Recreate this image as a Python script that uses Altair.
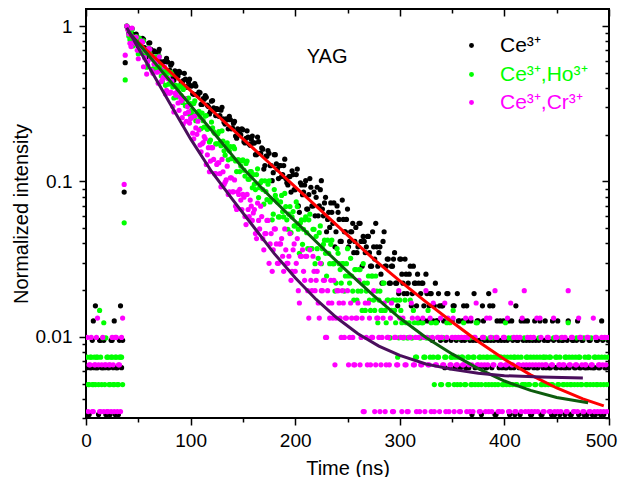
import altair as alt
import pandas as pd

FONT = "Liberation Sans"

# ---------------- data (photon counts) ----------------
series_labels = ["Ce³⁺", "Ce³⁺,Ho³⁺", "Ce³⁺,Cr³⁺"]
series_colors = ["#000000", "#00ff00", "#ff00ff"]
fit_colors = ["#ff0000", "#0d5c0d", "#4a0f5c"]

time_pre = list(range(1, 37, 2))          # before excitation (odd ns)
time_pre_even = list(range(2, 36, 2))     # before excitation (even ns)
time_rise = [36.5, 37.5]                  # rising edge
time_decay = list(range(39, 500, 2))      # peak + decay (odd ns)
time_decay_even = list(range(40, 500, 2)) # decay (even ns)

black_peak = 316
green_peak = 406
magenta_peak = 303

black_pre = [2, 1, 2, 4, 5, 2, 3, 2, 3, 1, 2, 1, 3, 4, 2, 1, 5, 3]
green_pre = [3, 2, 3, 2, 2, 3, 6, 2, 5, 4, 3, 2, 3, 2, 3, 2, 3, 2]
magenta_pre = [3, 2, 3, 1, 2, 4, 1, 2, 1, 2, 1, 2, 3, 1, 3, 2, 1, 4]

black_pre_even = [1, 2, 3, 2, 2, 1, 3, 2, 2, 1, 2, 3, 2, 1, 2, 3, 2]
green_pre_even = [2, 3, 2, 3, 3, 2, 3, 4, 2, 3, 2, 3, 2, 3, 2, 3, 3]
magenta_pre_even = [1, 2, 1, 2, 3, 2, 1, 3, 2, 1, 2, 1, 2, 3, 1, 2, 3]

black_rise = [27, 184]
green_rise = [22, 183]
magenta_rise = [29, 197]

black_decay = [316,
    285, 271, 280, 262, 268, 234, 252, 260, 227, 211,
    247, 215, 219, 195, 215, 187, 175, 187, 196, 163,
    177, 147, 163, 151, 162, 135, 141, 144, 128, 144,
    130, 115, 130, 113, 118, 99, 107, 110, 96, 89,
    105, 91, 93, 83, 91, 80, 74, 79, 83, 69,
    75, 62, 69, 64, 69, 57, 60, 61, 54, 62,
    56, 47, 57, 48, 51, 40, 46, 48, 40, 36,
    47, 38, 40, 34, 40, 33, 30, 34, 37, 28,
    35, 22, 31, 26, 30, 21, 26, 29, 22, 19,
    29, 22, 32, 19, 25, 18, 16, 20, 23, 15,
    20, 13, 24, 15, 18, 12, 15, 17, 13, 11,
    17, 13, 14, 11, 14, 11, 9, 12, 17, 9,
    12, 7, 15, 9, 10, 7, 9, 11, 7, 6,
    10, 7, 10, 6, 8, 5, 9, 7, 8, 4,
    7, 5, 8, 4, 6, 3, 5, 4, 6, 3,
    5, 2, 6, 4, 3, 5, 2, 6, 4, 3,
    5, 2, 4, 3, 1, 6, 3, 4, 2, 5,
    3, 2, 6, 3, 5, 1, 4, 2, 3, 4,
    2, 3, 1, 4, 2, 5, 3, 1, 2, 4,
    3, 2, 1, 3, 4, 2, 3, 1, 2, 4,
    3, 2, 1, 3, 2, 4, 1, 3, 2, 2,
    4, 1, 3, 2, 3, 1, 2, 3, 2, 1,
    3, 2, 2, 1, 3, 2, 4, 1, 2, 3]

black_decay_even = [
    307, 273, 305, 272, 281, 234, 254, 264, 230, 201,
    246, 224, 197, 216, 197, 224, 180, 186, 163, 186,
    165, 182, 142, 161, 151, 159, 133, 157, 129, 138,
    131, 116, 135, 115, 119, 99, 108, 113, 98, 86,
    104, 94, 84, 92, 84, 95, 76, 80, 69, 79,
    70, 77, 60, 68, 63, 68, 56, 67, 55, 59,
    56, 47, 61, 48, 52, 38, 46, 50, 40, 32,
    47, 41, 33, 40, 35, 44, 31, 34, 27, 35,
    28, 38, 20, 30, 27, 32, 21, 33, 22, 27,
    25, 19, 28, 21, 23, 15, 20, 23, 17, 12,
    22, 18, 13, 18, 15, 21, 13, 15, 11, 16,
    12, 17, 9, 13, 12, 14, 9, 15, 10, 12,
    11, 8, 13, 9, 10, 7, 9, 10, 7, 5,
    10, 8, 6, 8, 7, 9, 6, 7, 5, 7,
    6, 7, 4, 6, 5, 6, 4, 7, 4, 5,
    5, 4, 3, 6, 2, 4, 5, 3, 4, 2,
    4, 3, 5, 2, 4, 3, 2, 4, 3, 1,
    4, 2, 3, 5, 2, 3, 1, 3, 4, 2,
    3, 2, 4, 2, 3, 1, 3, 2, 4, 3,
    2, 4, 3, 1, 2, 3, 2, 4, 1, 3,
    2, 3, 2, 4, 1, 2, 3, 2, 3, 1,
    3, 2, 1, 3, 2, 4, 2, 3, 1, 2,
    2, 3, 1, 2, 3, 2, 1, 3, 2, 2]

green_decay = [406,
    350, 362, 303, 342, 317, 340, 274, 327, 269, 227,
    272, 250, 215, 258, 209, 223, 179, 217, 192, 172,
    205, 165, 168, 142, 164, 145, 159, 125, 139, 110,
    117, 129, 100, 113, 105, 112, 91, 108, 89, 75,
    90, 83, 71, 85, 69, 74, 60, 72, 64, 57,
    68, 55, 56, 47, 55, 48, 53, 42, 47, 37,
    39, 45, 32, 40, 36, 41, 31, 41, 31, 25,
    33, 30, 24, 33, 24, 28, 20, 28, 24, 21,
    30, 20, 22, 16, 23, 19, 23, 15, 20, 12,
    15, 19, 12, 16, 14, 17, 12, 17, 12, 9,
    14, 11, 12, 8, 12, 10, 13, 8, 11, 7,
    11, 8, 12, 6, 9, 7, 10, 7, 10, 5,
    8, 6, 9, 5, 7, 4, 7, 6, 7, 4,
    6, 4, 7, 4, 5, 4, 6, 3, 5, 4,
    5, 3, 4, 6, 3, 4, 2, 5, 3, 2,
    4, 3, 5, 2, 3, 6, 3, 2, 4, 3,
    5, 2, 3, 4, 2, 3, 5, 2, 3, 1,
    4, 3, 2, 3, 4, 2, 3, 1, 3, 2,
    5, 3, 2, 4, 3, 2, 3, 1, 2, 4,
    3, 2, 3, 1, 2, 3, 4, 2, 3, 2,
    1, 3, 2, 4, 3, 2, 3, 1, 2, 3,
    5, 2, 3, 2, 4, 3, 2, 1, 3, 2,
    3, 4, 2, 3, 2, 1, 3, 2, 4, 3]

green_decay_even = [
    390, 332, 385, 331, 348, 269, 303, 321, 266, 221,
    294, 258, 216, 248, 219, 261, 194, 205, 169, 205,
    173, 200, 140, 169, 154, 168, 131, 165, 126, 140,
    129, 110, 134, 110, 115, 89, 100, 107, 88, 73,
    98, 85, 71, 82, 72, 86, 64, 68, 56, 68,
    57, 66, 47, 56, 51, 56, 44, 55, 42, 47,
    45, 36, 49, 37, 41, 29, 35, 39, 30, 23,
    36, 31, 24, 30, 26, 34, 23, 25, 19, 26,
    21, 28, 14, 23, 20, 24, 15, 25, 15, 20,
    18, 13, 21, 15, 17, 10, 14, 16, 12, 8,
    15, 12, 9, 12, 10, 15, 9, 10, 7, 11,
    8, 11, 6, 9, 8, 10, 6, 10, 6, 8,
    7, 6, 9, 6, 7, 4, 6, 7, 5, 3,
    7, 5, 4, 5, 4, 7, 4, 5, 3, 5,
    4, 5, 3, 4, 4, 5, 3, 5, 3, 4,
    2, 4, 3, 2, 5, 3, 2, 4, 3, 2,
    3, 2, 4, 3, 2, 3, 2, 5, 3, 2,
    3, 2, 3, 4, 2, 3, 1, 2, 3, 2,
    3, 2, 4, 3, 2, 3, 2, 1, 3, 2,
    2, 3, 2, 4, 3, 2, 1, 3, 2, 3,
    3, 2, 3, 2, 1, 3, 2, 4, 2, 3,
    2, 3, 2, 1, 3, 2, 3, 2, 4, 2,
    3, 2, 1, 3, 2, 3, 2, 4, 3, 2]

magenta_decay = [303,
    270, 224, 258, 235, 212, 218, 243, 166, 210, 179,
    215, 157, 173, 179, 130, 156, 137, 166, 117, 139,
    114, 92, 112, 114, 87, 100, 71, 83, 92, 72,
    78, 57, 67, 74, 52, 53, 59, 39, 50, 41,
    50, 34, 39, 40, 28, 35, 30, 38, 26, 32,
    26, 21, 26, 27, 20, 24, 16, 20, 23, 17,
    20, 13, 17, 21, 13, 14, 17, 9, 14, 11,
    15, 9, 12, 13, 8, 11, 9, 14, 8, 12,
    9, 6, 10, 11, 7, 10, 4, 7, 10, 6,
    8, 4, 6, 7, 3, 6, 4, 5, 7, 4,
    6, 4, 6, 3, 4, 2, 5, 3, 2, 4,
    7, 3, 1, 5, 2, 4, 3, 6, 2, 4,
    1, 3, 5, 2, 3, 4, 1, 3, 2, 6,
    3, 4, 2, 1, 3, 5, 2, 3, 4, 1,
    2, 3, 6, 2, 4, 3, 1, 2, 3, 4,
    2, 5, 3, 1, 2, 4, 3, 2, 1, 3,
    2, 4, 3, 1, 2, 3, 5, 2, 1, 3,
    2, 4, 1, 3, 2, 6, 3, 1, 2, 3,
    2, 4, 1, 2, 3, 1, 2, 3, 4, 6,
    2, 1, 3, 2, 1, 4, 2, 3, 1, 2,
    3, 1, 2, 4, 3, 1, 2, 3, 2, 1,
    6, 2, 3, 1, 2, 4, 3, 1, 2, 3,
    1, 2, 4, 3, 1, 2, 3, 1, 2, 3]

magenta_decay_even = [
    287, 235, 295, 239, 257, 187, 221, 239, 190, 149,
    218, 187, 151, 180, 153, 192, 133, 142, 111, 140,
    112, 134, 85, 109, 97, 106, 78, 104, 74, 85,
    77, 62, 80, 61, 65, 47, 54, 57, 45, 35,
    50, 42, 34, 40, 34, 42, 29, 31, 25, 32,
    26, 31, 20, 25, 23, 25, 18, 25, 18, 21,
    19, 14, 22, 15, 18, 11, 14, 17, 12, 8,
    15, 12, 9, 12, 10, 15, 9, 10, 7, 11,
    8, 13, 5, 10, 8, 10, 6, 11, 6, 8,
    7, 5, 9, 6, 7, 3, 5, 7, 4, 2,
    6, 5, 3, 5, 4, 6, 3, 4, 2, 4,
    5, 2, 4, 1, 3, 5, 2, 3, 1, 4,
    3, 2, 4, 1, 3, 2, 5, 1, 3, 2,
    4, 1, 3, 2, 1, 3, 4, 2, 1, 3,
    2, 4, 1, 3, 2, 1, 5, 2, 3, 1,
    3, 2, 1, 4, 2, 3, 1, 2, 3, 1,
    2, 3, 1, 2, 4, 1, 3, 2, 1, 2,
    3, 1, 2, 4, 1, 2, 3, 1, 2, 1,
    3, 2, 1, 5, 2, 1, 3, 2, 1, 2,
    1, 3, 2, 1, 3, 2, 1, 4, 2, 1,
    2, 3, 1, 2, 1, 3, 2, 1, 2, 3,
    1, 2, 3, 1, 2, 1, 3, 2, 1, 2,
    3, 1, 2, 1, 3, 2, 1, 2, 3, 1]

# fitted curves
red_fit_time = [42, 60, 80, 100, 125, 150, 175, 200, 225, 250, 275, 300, 325, 350, 375, 400, 425, 450, 475, 495]
red_fit_value = [0.88, 0.68, 0.512, 0.385, 0.269, 0.188, 0.132, 0.0922, 0.0646, 0.0452, 0.0316, 0.0229,
                 0.0168, 0.01245, 0.00933, 0.00716, 0.00569, 0.00468, 0.00398, 0.00359]
green_fit_time = [40, 60, 80, 100, 125, 150, 175, 200, 225, 250, 275, 300, 325, 350, 375, 400, 425, 450, 480]
green_fit_value = [0.93, 0.646, 0.447, 0.309, 0.195, 0.1216, 0.0813, 0.0556, 0.038, 0.0263, 0.0184, 0.0132,
                   0.00989, 0.00776, 0.00624, 0.00519, 0.00452, 0.00407, 0.00376]
purple_fit_time = [39, 60, 80, 100, 120, 140, 160, 180, 200, 220, 240, 260, 280, 300, 325, 350, 375, 400, 435, 475]
purple_fit_value = [0.977, 0.55, 0.32, 0.188, 0.116, 0.0767, 0.0513, 0.0343, 0.024, 0.0174, 0.0132, 0.01047,
                    0.00871, 0.00759, 0.00668, 0.00617, 0.00582, 0.00562, 0.0055, 0.00543]

annotation_text = ["YAG"]
annotation_time = [211]
annotation_value = [0.578]

x_major_ticks = [0, 100, 200, 300, 400, 500]
x_minor_ticks = [50, 150, 250, 350, 450]
y_major_ticks = [0.01, 0.1, 1]
y_minor_ticks = [0.003, 0.004, 0.005, 0.006, 0.007, 0.008, 0.009,
                 0.02, 0.03, 0.04, 0.05, 0.06, 0.07, 0.08, 0.09,
                 0.2, 0.3, 0.4, 0.5, 0.6, 0.7, 0.8, 0.9]

# ---------------- tables ----------------
def scatter_table(label, peak, pre, pre_even, rise, decay, decay_even):
    times = time_pre + time_pre_even + time_rise + time_decay + time_decay_even
    counts = pre + pre_even + rise + decay + decay_even
    assert len(pre) == len(time_pre), (label, "pre", len(pre))
    assert len(pre_even) == len(time_pre_even), (label, "pre_even", len(pre_even))
    assert len(decay) == len(time_decay), (label, "decay", len(decay))
    assert len(decay_even) == len(time_decay_even), (label, "decay_even", len(decay_even))
    return pd.DataFrame(
        [{"series": label, "time": t, "value": c / peak} for t, c in zip(times, counts) if c > 0]
    )

df_black = scatter_table(series_labels[0], black_peak, black_pre, black_pre_even, black_rise,
                         black_decay, black_decay_even)
df_green = scatter_table(series_labels[1], green_peak, green_pre, green_pre_even, green_rise,
                         green_decay, green_decay_even)
df_magenta = scatter_table(series_labels[2], magenta_peak, magenta_pre, magenta_pre_even,
                           magenta_rise, magenta_decay, magenta_decay_even)

df_red = pd.DataFrame({"time": red_fit_time, "value": red_fit_value})
df_dgreen = pd.DataFrame({"time": green_fit_time, "value": green_fit_value})
df_purple = pd.DataFrame({"time": purple_fit_time, "value": purple_fit_value})
df_text = pd.DataFrame({"time": annotation_time, "value": annotation_value, "label": annotation_text})

# ---------------- scales & axes ----------------
xs = alt.Scale(domain=[0, 500], nice=False, zero=False)
ys = alt.Scale(type="log", domain=[0.003, 1.29], nice=False)

common = dict(grid=False, domain=False, tickColor="black", tickWidth=1.5)

x_bottom = alt.Axis(orient="bottom", values=x_major_ticks, tickSize=7, labelPadding=6,
                    labelFontSize=19, labelFont=FONT, labelColor="black", labelFlush=False,
                    labelOverlap=False, format="d",
                    labelOffset={"condition": {"test": "datum.value == 500", "value": -8}, "value": 0},
                    title="Time (ns)", titleFont=FONT,
                    titleFontSize=20, titleFontWeight="normal", titleColor="black",
                    titlePadding=8, **common)
x_bottom_minor = alt.Axis(orient="bottom", values=x_minor_ticks, tickSize=4, labels=False,
                          title=None, **common)
x_top = alt.Axis(orient="top", values=x_major_ticks, tickSize=7, offset=-7, labels=False,
                 title=None, **common)
x_top_minor = alt.Axis(orient="top", values=x_minor_ticks, tickSize=4, offset=-4, labels=False,
                       title=None, **common)

y_left = alt.Axis(orient="left", values=y_major_ticks, tickSize=7, labelPadding=7,
                  labelFontSize=19, labelFont=FONT, labelColor="black", labelOverlap=False,
                  format="~g", title="Normalized intensity", titleFont=FONT, titleFontSize=20,
                  titleFontWeight="normal", titleColor="black", titlePadding=4, **common)
y_left_minor = alt.Axis(orient="left", values=y_minor_ticks, tickSize=4, labels=False,
                        title=None, **common)
y_right = alt.Axis(orient="right", values=y_major_ticks, tickSize=7, offset=-7, labels=False,
                   title=None, **common)
y_right_minor = alt.Axis(orient="right", values=y_minor_ticks, tickSize=4, offset=-4,
                         labels=False, title=None, **common)


def legend_for(color, ly):
    return alt.Legend(orient="none", legendX=375, legendY=ly, title=None, padding=0,
                      labelColor=color, labelFont=FONT, labelFontSize=21, labelOffset=18,
                      symbolType="circle", symbolSize=24, symbolStrokeWidth=0,
                      symbolFillColor=color)


def scatter(df, idx, ly, xa, ya):
    return alt.Chart(df).mark_circle(size=27, opacity=1, clip=True).encode(
        x=alt.X("time:Q", scale=xs, axis=xa),
        y=alt.Y("value:Q", scale=ys, axis=ya),
        color=alt.Color("series:N",
                        scale=alt.Scale(domain=[series_labels[idx]], range=[series_colors[idx]]),
                        legend=legend_for(series_colors[idx], ly)),
    )


def fit_line(df, color, xa=None, ya=None):
    return alt.Chart(df).mark_line(strokeWidth=3, clip=True, color=color).encode(
        x=alt.X("time:Q", scale=xs, axis=xa),
        y=alt.Y("value:Q", scale=ys, axis=ya),
    )


p_black = scatter(df_black, 0, 26, x_bottom, y_left)
p_green = scatter(df_green, 1, 55, x_bottom_minor, y_left_minor)
p_magenta = scatter(df_magenta, 2, 83, x_top, y_right)

l_red = fit_line(df_red, fit_colors[0], x_top_minor, y_right_minor)
l_green = fit_line(df_dgreen, fit_colors[1])
l_purple = fit_line(df_purple, fit_colors[2])

label = alt.Chart(df_text).mark_text(align="left", baseline="alphabetic", font=FONT,
                                     fontSize=20, color="black").encode(
    x=alt.X("time:Q", scale=xs, axis=None),
    y=alt.Y("value:Q", scale=ys, axis=None),
    text="label:N",
)

chart = alt.layer(p_black, p_green, p_magenta, l_red, l_green, l_purple, label).resolve_scale(
    color="independent"
).resolve_axis(
    x="independent", y="independent"
).properties(
    width=523, height=409,
    autosize=alt.AutoSizeParams(type="none"),
    padding={"left": 78, "top": 1, "right": 9, "bottom": 59},
).configure_view(stroke="black", strokeWidth=2)

chart.save("out.html", embed_options={"renderer": "svg", "actions": False})
